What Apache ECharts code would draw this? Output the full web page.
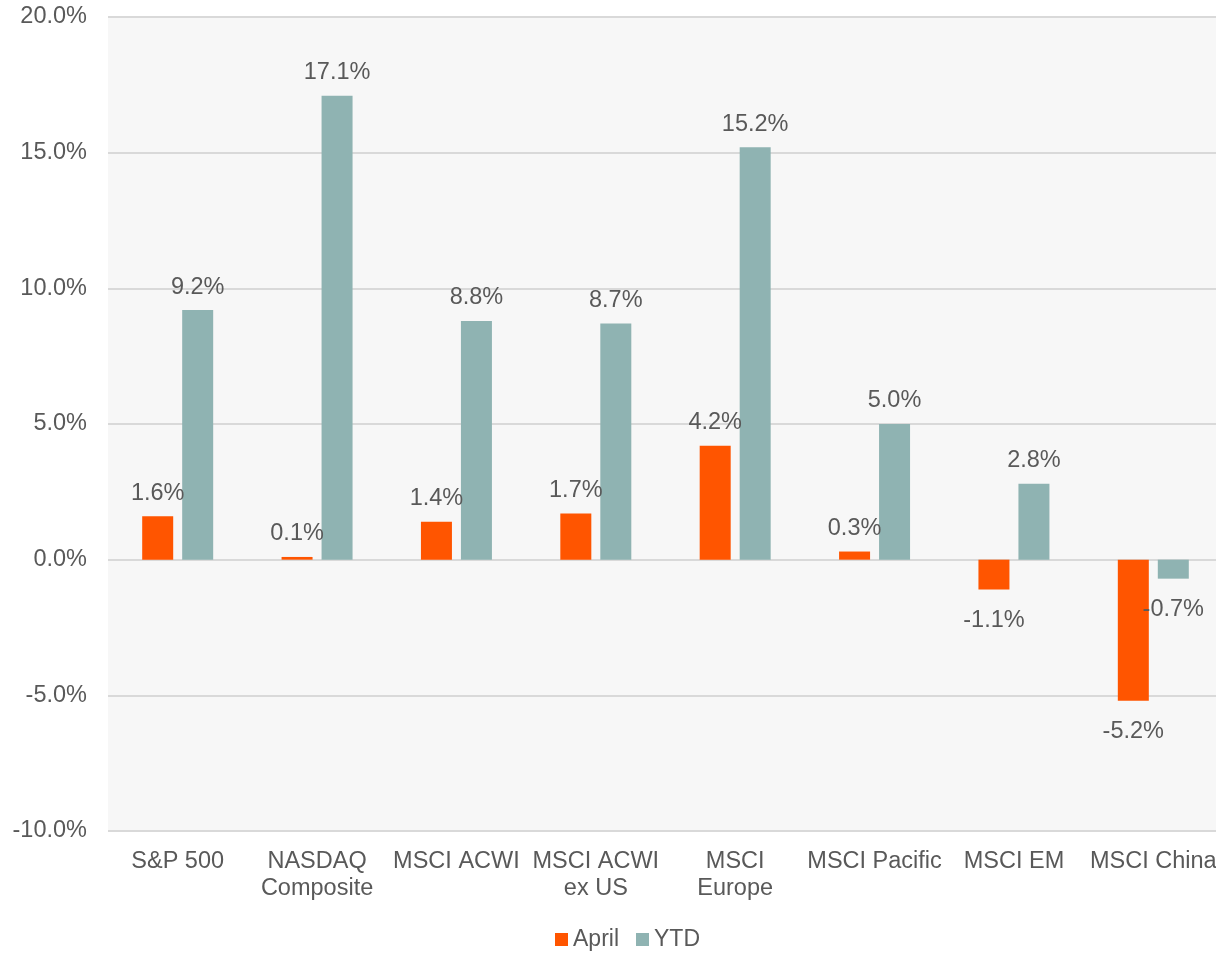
<!DOCTYPE html>
<html>
<head>
<meta charset="utf-8">
<script src="https://cdn.jsdelivr.net/npm/echarts@6/dist/echarts.min.js"></script>
<style>
  html, body { margin: 0; padding: 0; background: #fff; overflow: hidden; }
  #main { width: 1216px; height: 954px; }
</style>
</head>
<body>
<div id="main"></div>
<script>
var categories = ['S&P 500', 'NASDAQ\nComposite', 'MSCI ACWI', 'MSCI ACWI\nex US', 'MSCI\nEurope', 'MSCI Pacific', 'MSCI EM', 'MSCI China'];
var april = [1.6, 0.1, 1.4, 1.7, 4.2, 0.3, -1.1, -5.2];
var ytd = [9.2, 17.1, 8.8, 8.7, 15.2, 5.0, 2.8, -0.7];

var FONT = 'Liberation Sans, Arial';

function barLabel() {
    return {
        show: true,
        position: 'top',
        distance: 11,
        color: '#595959',
        fontSize: 23.5,
        fontFamily: FONT,
        formatter: function (p) { return p.value.toFixed(1) + '%'; }
    };
}

function makeData(arr) {
    return arr.map(function (v) {
        return {
            value: v,
            label: v < 0 ? { position: 'bottom', distance: 19 } : { position: 'top' }
        };
    });
}

var myChart = echarts.init(document.getElementById('main'));
var option = {
    backgroundColor: '#fff',
    textStyle: { fontFamily: FONT },
    grid: {
        left: 108, right: -7, top: 17, bottom: 123,
        outerBoundsMode: 'none',
        containLabel: false,
        show: true, backgroundColor: '#f7f7f7', borderWidth: 0
    },
    legend: {
        bottom: -2,
        left: 550,
        itemWidth: 13, itemHeight: 13, itemGap: 17,
        icon: 'rect',
        textStyle: { color: '#595959', fontSize: 23, fontFamily: FONT },
        data: ['April', 'YTD']
    },
    xAxis: {
        type: 'category',
        data: categories,
        axisLine: { show: false },
        axisTick: { show: false },
        axisLabel: {
            color: '#595959', fontSize: 23.5, margin: 17, lineHeight: 27,
            interval: 0, fontFamily: FONT
        }
    },
    yAxis: {
        type: 'value',
        min: -10, max: 20, interval: 5,
        axisLine: { show: false },
        axisTick: { show: false },
        splitLine: { lineStyle: { color: '#d9d9d9', width: 2 } },
        axisLabel: {
            color: '#595959', fontSize: 23.5, margin: 21,
            fontFamily: FONT,
            formatter: function (v) { return v.toFixed(1) + '%'; }
        }
    },
    series: [{
        name: 'April',
        type: 'bar',
        data: makeData(april),
        barWidth: 31,
        barGap: '29%',
        itemStyle: { color: '#ff5500' },
        label: barLabel()
    }, {
        name: 'YTD',
        type: 'bar',
        data: makeData(ytd),
        barWidth: 31,
        itemStyle: { color: '#8fb3b2' },
        label: barLabel()
    }]
};
myChart.setOption(option);
</script>
</body>
</html>
